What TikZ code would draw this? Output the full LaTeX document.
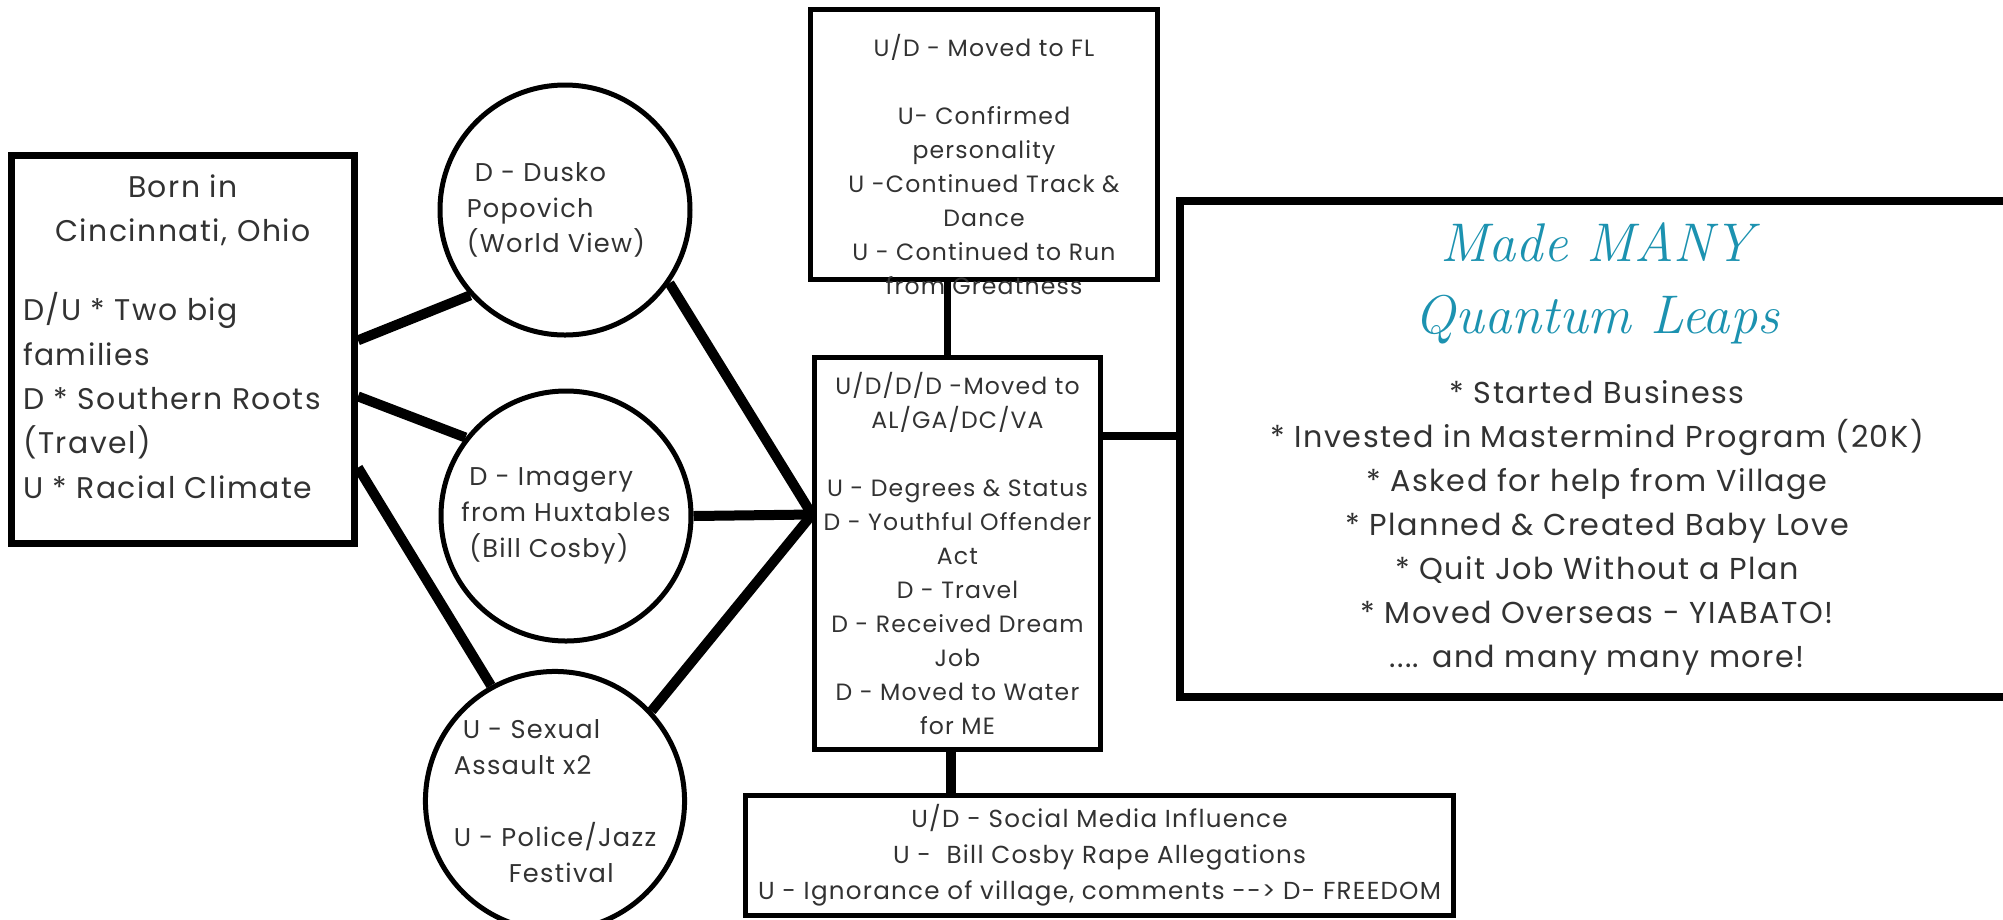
\documentclass[tikz,border=0pt]{standalone}
\usepackage{fontspec}
\setsansfont{Poppins}[LetterSpace=5]
\usepackage{tikz}
\definecolor{leapblue}{RGB}{28,146,176}
\definecolor{inkgray}{RGB}{50,50,50}

\begin{document}
\begin{tikzpicture}[x=0.1mm, y=-0.1mm, thick,
                    box node/.style={rectangle,draw,line width=0.5mm,align=center,inner sep=0pt,text=inkgray,font=\sffamily\fontsize{6.7}{9.7}\selectfont},
                    main node/.style={circle,draw,line width=0.5mm,minimum size=25mm,inner sep=0pt,align=left,text=inkgray,font=\sffamily\fontsize{7.3}{10.2}\selectfont},
                    link/.style={line width=1mm}]

  \path[use as bounding box, clip] (0,0) rectangle (2003,919);

  \node[box node, line width=0.7mm, minimum width=34.3mm, minimum height=38.8mm] (1) at (183,349.5)
    {\parbox[c][35mm][t]{32mm}{\fontsize{8.5}{12.6}\selectfont\centering Born in\\ Cincinnati, Ohio\par\vspace{10pt}
     \raggedright D/U * Two big\\ families\\ D * Southern Roots\\ (Travel)\\ U * Racial Climate}};

  \node[main node] (2) at (565,210) {\hspace*{0.8mm}D - Dusko\\ Popovich\\ (World View)\hspace*{1.8mm}};
  \node[main node] (3) at (566,516) {\hspace*{0.8mm}D - Imagery\\ from Huxtables\\ \hspace*{0.8mm}(Bill Cosby)};
  \node[main node] (4) at (555,801) {\hspace*{0.9mm}U - Sexual\\ Assault x2\\[10.2pt] U - Police/Jazz\\ \hspace*{5.5mm}Festival};

  \node[box node, minimum width=28.6mm, minimum height=39.2mm] (5) at (957.5,553.5)
    {U/D/D/D -Moved to\\ AL/GA/DC/VA\\[9.7pt] U - Degrees \& Status\\ D - Youthful Offender\\ Act\\ D - Travel\\
     D - Received Dream\\ Job\\ D - Moved to Water\\ for ME};

  \node[box node, minimum width=34.7mm, minimum height=27mm] (6) at (984,144.5)
    {\parbox[c][22mm][t]{34mm}{\centering U/D - Moved to FL\\[9.6pt] U- Confirmed\\ personality\\ U -Continued Track \&\\ Dance\\
     U - Continued to Run\\ from Greatness}};

  \node[box node, minimum width=70.8mm, minimum height=12mm, font=\sffamily\fontsize{7}{10.2}\selectfont] (7) at (1099.5,855.5)
    {U/D - Social Media Influence\\ U - \ Bill Cosby Rape Allegations\\ U - Ignorance of village, comments -{}-> D- FREEDOM};

  \node[box node, line width=0.8mm, minimum width=83.4mm, minimum height=49.6mm, font=\sffamily\fontsize{8.6}{12.5}\selectfont] (8) at (1597,449)
    {{\rmfamily\itshape\fontsize{15.5}{21}\selectfont\color{leapblue}Made MANY}\\[8pt]
     {\rmfamily\itshape\fontsize{15.5}{21}\selectfont\color{leapblue}Quantum Leaps}\\[7.5pt]
     * Started Business\\ * Invested in Mastermind Program (20K)\\ * Asked for help from Village\\
     * Planned \& Created Baby Love\\ * Quit Job Without a Plan\\ * Moved Overseas - YIABATO!\\ .... and many many more!};

  \path[link]
    (1.3) edge (2.222)
    (1.-15) edge (3.142)
    (1.-34) edge (4.119)
    (2.-35) edge (5.165)
    (3.east) edge (5.165)
    (4.43) edge (5.165);

  \draw[line width=0.7mm] (6.-105) -- (6.-105 |- 5.north);
  \draw[line width=0.8mm] (5.39) -- (5.39 -| 8.west);
  \draw[line width=1mm] (5.-92) -- (5.-92 |- 7.north);
\end{tikzpicture}
\end{document}
